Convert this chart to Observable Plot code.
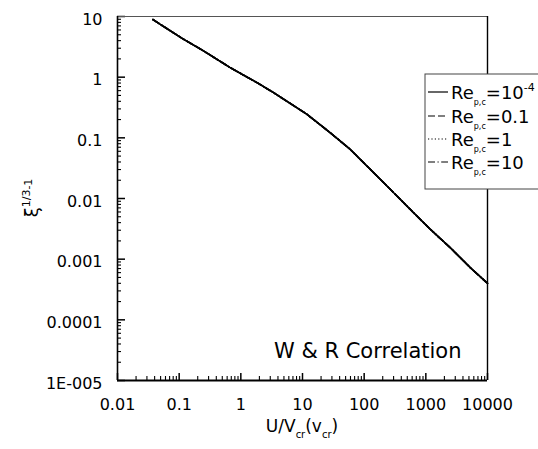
<!DOCTYPE html>
<html>
<head>
<meta charset="utf-8">
<script src="https://cdn.jsdelivr.net/npm/d3@7"></script>
<script src="https://cdn.jsdelivr.net/npm/@observablehq/plot@0.6"></script>
<style>
  body { margin: 0; background: #fff; }
  #chart { width: 538px; height: 449px; }
  #chart svg { font-family: "DejaVu Sans", "Liberation Sans", Arial, sans-serif; }
</style>
</head>
<body>
<div id="chart"></div>
<script>
// Particle Reynolds numbers of the four curves (legend entries)
const reynoldsLabels = ["10", "0.1", "1", "10"];
const reynoldsSuperscripts = ["-4", "", "", ""];
const reynoldsDash = [null, "7,3", "1.2,2.2", "7,2.5,1.2,2.5"];

// U / v_cr along the curve
const velocityRatio = [0.0375, 0.115, 0.244, 0.662, 1.8, 3.35, 11.7, 28, 59, 125, 265, 560, 1183, 2500, 5295, 10000];
// xi^(1/3) - 1 for each Reynolds number (the four curves coincide)
const curveRe1e4 = [8.9, 4.28, 2.74, 1.45, 0.82, 0.561, 0.246, 0.122, 0.065, 0.0304, 0.0142, 0.0066, 0.0031, 0.00154, 0.00072, 0.0004];
const curveRe01  = [8.9, 4.28, 2.74, 1.45, 0.82, 0.561, 0.246, 0.122, 0.065, 0.0304, 0.0142, 0.0066, 0.0031, 0.00154, 0.00072, 0.0004];
const curveRe1   = [8.9, 4.28, 2.74, 1.45, 0.82, 0.561, 0.246, 0.122, 0.065, 0.0304, 0.0142, 0.0066, 0.0031, 0.00154, 0.00072, 0.0004];
const curveRe10  = [8.9, 4.28, 2.74, 1.45, 0.82, 0.561, 0.246, 0.122, 0.065, 0.0304, 0.0142, 0.0066, 0.0031, 0.00154, 0.00072, 0.0004];
const curves = [curveRe1e4, curveRe01, curveRe1, curveRe10];

// Axis ticks and their labels
const xTicks = [0.01, 0.1, 1, 10, 100, 1000, 10000];
const xTickLabels = ["0.01", "0.1", "1", "10", "100", "1000", "10000"];
const yTicks = [1e-5, 1e-4, 0.001, 0.01, 0.1, 1, 10];
const yTickLabels = ["1E-005", "0.0001", "0.001", "0.01", "0.1", "1", "10"];

const W = 538, H = 449;
const mL = 117, mR = 51, mT = 16, mB = 69;
const plotW = W - mL - mR, plotH = H - mT - mB;
const xMin = xTicks[0], xMax = xTicks[xTicks.length - 1];
const yMin = yTicks[0], yMax = yTicks[yTicks.length - 1];

const rows = curves.flatMap((ys, s) => velocityRatio.map((u, i) => ({series: s, u, v: ys[i]})));

// log-decade minor ticks (2..9 within each decade)
const minorsOf = (majors) => majors.slice(0, -1).flatMap(d => d3.range(2, 10).map(k => d * k));
const xMinor = minorsOf(xTicks);
const yMinor = minorsOf(yTicks);
const xLabelOf = new Map(xTicks.map((t, i) => [t, xTickLabels[i]]));
const yLabelOf = new Map(yTicks.map((t, i) => [t, yTickLabels[i]]));

// tick lengths in pixels, expressed as a factor along each log axis
const xPxPerDecade = plotW / Math.log10(xMax / xMin);
const yPxPerDecade = plotH / Math.log10(yMax / yMin);
const upBy = px => yMin * 10 ** (px / yPxPerDecade);
const rightBy = px => xMin * 10 ** (px / xPxPerDecade);

const chart = Plot.plot({
  width: W,
  height: H,
  marginLeft: mL,
  marginRight: mR,
  marginTop: mT,
  marginBottom: mB,
  style: {fontFamily: '"DejaVu Sans", "Liberation Sans", Arial, sans-serif', color: "#000", background: "#fff"},
  x: {type: "log", domain: [xMin, xMax]},
  y: {type: "log", domain: [yMin, yMax]},
  marks: [
    // inward ticks on the bottom and left axes
    Plot.ruleX(xTicks, {x: d => d, y1: yMin, y2: upBy(7), stroke: "#000", strokeWidth: 1.5}),
    Plot.ruleX(xMinor, {x: d => d, y1: yMin, y2: upBy(4), stroke: "#000", strokeWidth: 1.1}),
    Plot.ruleY(yTicks, {y: d => d, x1: xMin, x2: rightBy(8), stroke: "#000", strokeWidth: 1.5}),
    Plot.ruleY(yMinor, {y: d => d, x1: xMin, x2: rightBy(4), stroke: "#000", strokeWidth: 1.1}),
    // frame: heavy left/bottom, lighter top/right
    Plot.ruleY([yMax], {stroke: "#555", strokeWidth: 1}),
    Plot.ruleX([xMax], {stroke: "#000", strokeWidth: 1.4}),
    Plot.ruleX([xMin], {stroke: "#000", strokeWidth: 1.6}),
    Plot.ruleY([yMin], {stroke: "#000", strokeWidth: 2}),
    // the four curves
    ...curves.map((_, s) => Plot.line(rows.filter(r => r.series === s), {
      x: "u", y: "v", stroke: "#000", strokeWidth: s === 0 ? 1.4 : 1.7,
      strokeDasharray: reynoldsDash[s]
    })),
    Plot.axisX({ticks: xTicks, tickSize: 0, tickPadding: 18, tickFormat: d => xLabelOf.get(d), fontSize: 16, label: null}),
    Plot.axisY({ticks: yTicks, tickSize: 0, tickPadding: 15, tickFormat: d => yLabelOf.get(d), fontSize: 16, dy: 3, label: null}),
    Plot.text(["W & R Correlation"], {
      frameAnchor: "bottom-right", textAnchor: "end", lineAnchor: "bottom",
      dx: -26, dy: -23, fontSize: 21, fill: "#000"
    })
  ]
});

document.getElementById("chart").appendChild(chart);

const svg = d3.select(chart);
const font = '"DejaVu Sans", "Liberation Sans", Arial, sans-serif';

// x-axis title: U/V_cr(v_cr)
const xt = svg.append("text")
  .attr("x", mL + plotW / 2).attr("y", 432)
  .attr("text-anchor", "middle")
  .attr("font-family", font).attr("font-size", 17).attr("fill", "#000");
xt.append("tspan").text("U/V");
xt.append("tspan").attr("font-size", 10).attr("dy", 6).text("cr");
xt.append("tspan").attr("dy", -6).text("(v");
xt.append("tspan").attr("font-size", 10).attr("dy", 6).text("cr");
xt.append("tspan").attr("dy", -6).text(")");

// y-axis title: xi^(1/3)-1
const yt = svg.append("text")
  .attr("transform", `translate(38,${mT + plotH / 2}) rotate(-90)`)
  .attr("text-anchor", "middle")
  .attr("font-family", font).attr("font-size", 18).attr("fill", "#000");
yt.append("tspan").text("ξ");
yt.append("tspan").attr("font-size", 11).attr("dy", -8).text("1/3");
yt.append("tspan").attr("font-size", 11).attr("dy", 2).text("-1");

// legend box
const lg = svg.append("g");
lg.append("rect")
  .attr("x", 425).attr("y", 74).attr("width", 140).attr("height", 115)
  .attr("fill", "#fff").attr("stroke", "#444").attr("stroke-width", 1);
const baselines = [99, 123, 146, 169];
reynoldsLabels.forEach((lab, i) => {
  const b = baselines[i];
  lg.append("line")
    .attr("x1", 428).attr("x2", 448).attr("y1", b - 7).attr("y2", b - 7)
    .attr("stroke", "#000").attr("stroke-width", 1.2)
    .attr("stroke-dasharray", reynoldsDash[i]);
  const t = lg.append("text").attr("x", 451).attr("y", b)
    .attr("text-anchor", "start")
    .attr("font-family", font).attr("font-size", 18).attr("fill", "#000");
  t.append("tspan").text("Re");
  t.append("tspan").attr("font-size", 8).attr("dy", 6).text("p,c");
  t.append("tspan").attr("dy", -6).text("=" + lab);
  if (reynoldsSuperscripts[i]) t.append("tspan").attr("font-size", 11).attr("dy", -8).text(reynoldsSuperscripts[i]);
});
</script>
</body>
</html>
